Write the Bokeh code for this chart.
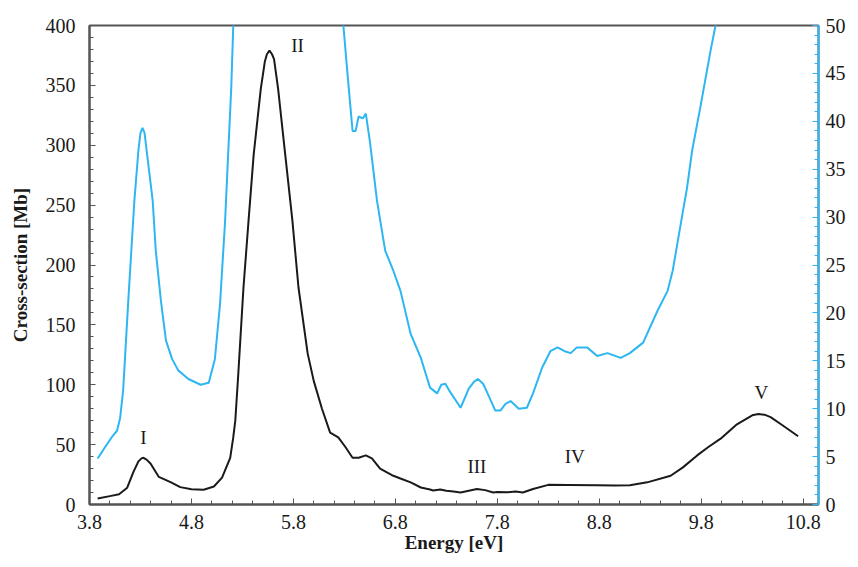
from bokeh.plotting import figure
from bokeh.models import Range1d, LinearAxis, FixedTicker, Label
from bokeh.embed import file_html
from bokeh.resources import INLINE

# ---- data ----
black_E = [3.88, 4.00, 4.09, 4.17, 4.23, 4.28, 4.31, 4.33, 4.36, 4.40, 4.48, 4.60, 4.69, 4.80, 4.92,
           5.02, 5.10, 5.18, 5.21, 5.23, 5.26, 5.31, 5.36, 5.41, 5.48, 5.52, 5.54, 5.565, 5.59, 5.61,
           5.65, 5.72, 5.79, 5.85, 5.94, 6.00, 6.08, 6.16, 6.24, 6.31, 6.38, 6.44, 6.51,
           6.57, 6.65, 6.78, 6.85, 6.95, 7.05, 7.14, 7.17, 7.24, 7.30, 7.37, 7.44, 7.52,
           7.60, 7.68, 7.76, 7.80, 7.90, 7.98, 8.05, 8.15, 8.30, 8.50, 8.78, 8.95, 9.10,
           9.27, 9.50, 9.62, 9.76, 9.87, 9.99, 10.15, 10.30, 10.36, 10.42, 10.48, 10.60, 10.75]
black_val = [5, 7, 8.5, 14, 27, 36, 38.5, 39, 37.5, 34, 23, 18.5, 14.5, 12.7, 12.3,
             15, 22.5, 39, 56, 70, 110, 181, 237, 292, 347, 370, 376, 379, 376, 372,
             347, 292, 237, 181, 126, 103, 80, 60, 56, 48, 39, 39, 41,
             38.5, 30, 24, 21.7, 18.5, 14.2, 12.5, 11.7, 12.5, 11.5, 10.8, 10, 11.5,
             13, 12, 10, 10.5, 10.2, 10.8, 10, 13, 16.4, 16.3, 16, 15.8, 16,
             18.5, 24, 31, 41, 48, 55, 67, 74.5, 75.5, 75, 73, 66, 57]

blue_E = [3.88, 3.96, 4.03, 4.07, 4.10, 4.13, 4.18, 4.24, 4.28, 4.30, 4.32, 4.34, 4.36, 4.42, 4.45,
          4.50, 4.55, 4.61, 4.67, 4.77, 4.89, 4.97, 5.03, 5.08, 5.13, 5.16, 5.19, 5.21, 5.22,
          6.28, 6.29, 6.33, 6.38, 6.41, 6.44, 6.48, 6.51, 6.55, 6.62, 6.70, 6.78, 6.85,
          6.95, 7.05, 7.14, 7.21, 7.25, 7.29, 7.34, 7.44, 7.52, 7.57, 7.61, 7.66, 7.70,
          7.78, 7.83, 7.88, 7.93, 8.01, 8.09, 8.15, 8.24, 8.32, 8.39, 8.46, 8.52, 8.58,
          8.68, 8.78, 8.88, 9.01, 9.10, 9.23, 9.37, 9.47, 9.52, 9.57, 9.62, 9.66, 9.71,
          9.79, 9.89, 9.94, 9.95]
blue_val = [4.8, 6.1, 7.2, 7.7, 9.0, 11.9, 21.2, 31.7, 37, 38.8, 39.3, 38.8, 37, 31.7, 26.5,
            21.3, 17.1, 15.2, 14, 13.1, 12.5, 12.7, 15.2, 20.9, 29.6, 36.6, 43.4, 50, 53,
            53, 50, 45, 39, 39, 40.5, 40.3, 40.8, 37.9, 31.7, 26.5, 24.4, 22.3,
            17.8, 15.3, 12.2, 11.6, 12.5, 12.6, 11.7, 10.1, 12.1, 12.8, 13.1, 12.6, 11.7,
            9.8, 9.8, 10.5, 10.8, 10.0, 10.1, 11.6, 14.3, 16.0, 16.4, 16.0, 15.8, 16.4,
            16.4, 15.5, 15.8, 15.3, 15.8, 16.9, 20.2, 22.3, 24.4, 27.5, 30.6, 33.0, 36.9,
            41.4, 47.3, 50, 52]

x_ticks = [3.8, 4.8, 5.8, 6.8, 7.8, 8.8, 9.8, 10.8]
left_ticks = [0, 50, 100, 150, 200, 250, 300, 350, 400]
right_ticks = [0, 5, 10, 15, 20, 25, 30, 35, 40, 45, 50]

peak_labels = ["I", "II", "III", "IV", "V"]
peak_label_E = [4.33, 5.84, 7.60, 8.56, 10.39]
peak_label_y = [56, 383, 31.7, 40, 93.3]

BLUE = "#2DB7F2"
AXIS = "#555555"
FONT = "Liberation Serif"

p = figure(width=850, height=559, output_backend="svg", toolbar_location=None,
           x_range=Range1d(3.8, 10.95), y_range=Range1d(0, 400),
           min_border_left=89, min_border_right=32, min_border_top=25, min_border_bottom=55)
p.extra_y_ranges = {"right": Range1d(0, 50)}

p.xgrid.visible = False
p.ygrid.visible = False
p.outline_line_color = AXIS
p.outline_line_width = 2

p.line(black_E, black_val, line_color="#1a1a1a", line_width=2)
p.line(blue_E, blue_val, line_color=BLUE, line_width=2, y_range_name="right")

def style_axis(ax, color):
    ax.axis_line_color = color
    ax.axis_line_width = 2
    ax.major_tick_line_color = color
    ax.minor_tick_line_color = color
    ax.major_tick_in = 6
    ax.major_tick_out = 0
    ax.minor_tick_in = 4
    ax.minor_tick_out = 0
    ax.major_label_text_font = FONT
    ax.major_label_text_font_size = "20px"
    ax.major_label_text_color = "#1a1a1a"
    ax.axis_label_text_font = FONT
    ax.axis_label_text_font_size = "19px"
    ax.axis_label_text_font_style = "bold"
    ax.axis_label_text_color = "#1a1a1a"

xa = p.xaxis[0]
xa.ticker = FixedTicker(ticks=x_ticks, minor_ticks=[3.8 + 0.2 * i for i in range(36)])
style_axis(xa, AXIS)
xa.major_label_standoff = 10
xa.axis_label = "Energy [eV]"
xa.axis_label_standoff = 0

ya = p.yaxis[0]
ya.ticker = FixedTicker(ticks=left_ticks, minor_ticks=list(range(0, 401, 10)))
style_axis(ya, AXIS)
ya.major_label_standoff = 14
ya.axis_label = "Cross-section [Mb]"
ya.axis_label_standoff = 12

ra = LinearAxis(y_range_name="right")
ra.ticker = FixedTicker(ticks=right_ticks, minor_ticks=list(range(0, 51)))
style_axis(ra, BLUE)
ra.major_label_standoff = 7
ra.axis_label_standoff = 0
p.add_layout(ra, "right")

for t, xe, yv in zip(peak_labels, peak_label_E, peak_label_y):
    p.add_layout(Label(x=xe, y=yv, text=t, text_font=FONT, text_font_size="19px",
                       text_align="center", text_baseline="middle", text_color="#1a1a1a"))

open("out.html", "w").write(file_html(p, INLINE))
